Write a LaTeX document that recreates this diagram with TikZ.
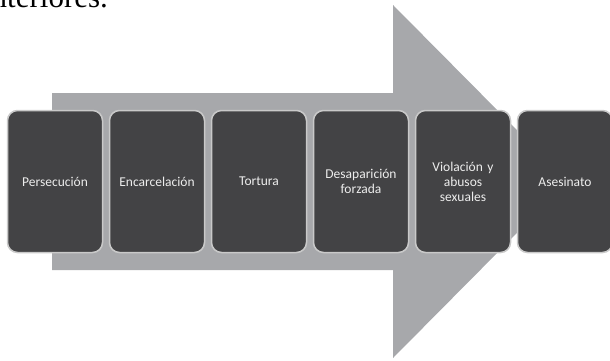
\documentclass[tikz,border=0pt]{standalone}
\usepackage{fontspec}
\setmainfont{Liberation Serif}
\newfontfamily\cajafont{Carlito}
\usetikzlibrary{positioning}

\definecolor{flecha}{HTML}{A7A8AB}
\definecolor{fondocaja}{HTML}{434345}
\definecolor{bordecaja}{HTML}{C9C9C9}
\definecolor{textocaja}{HTML}{EDEDED}

\tikzset{
  etapa/.style={rectangle, rounded corners=10pt, draw=bordecaja, line width=1.5pt,
    fill=fondocaja, text=textocaja, minimum width=95pt, minimum height=142pt,
    text width=88pt, align=center, inner sep=2pt,
    font=\cajafont\fontsize{13.5}{15}\selectfont}
}

\begin{document}
\begin{tikzpicture}[x=1pt, y=-1pt]
            \useasboundingbox (0,0) rectangle (610,361);
            \node[anchor=base west, inner sep=0pt, font=\fontsize{31}{31}\selectfont] (texto) at (-8.5,7.5) {nteriores.};

            % flecha de fondo
            \fill[flecha] (52,93) -- (393,93) -- (393,5) -- (568,181.5) -- (393,358) -- (393,270) -- (52,270) -- cycle;

            \node[etapa] (persecucion) at (55,181.5) {Persecución};
            \node[etapa, right=5.5pt of persecucion] (encarcelacion) {Encarcelación};
            \node[etapa, right=5.5pt of encarcelacion] (tortura) {Tortura};
            \node[etapa, right=5.5pt of tortura] (desaparicion) {Desaparición\\forzada};
            \node[etapa, right=5.5pt of desaparicion] (violacion) {Violación y\\abusos\\sexuales};
            \node[etapa, right=5.5pt of violacion] (asesinato) {Asesinato};
        \end{tikzpicture}
\end{document}
